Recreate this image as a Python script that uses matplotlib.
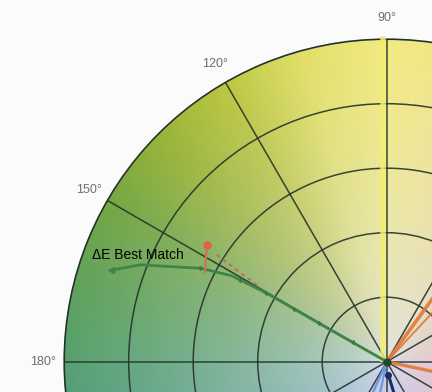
import numpy as np
import matplotlib.pyplot as plt
from matplotlib import transforms

# outer colour of the a*b* hue ring (angle in degrees -> RGB)
hue_angles = [0, 30, 60, 90, 105, 120, 135, 150, 165, 180, 210, 240, 270, 300, 330, 360]
hue_colors = [(232, 150, 145), (240, 185, 130), (242, 220, 140), (242, 234, 128),
              (226, 224, 104), (188, 198, 66), (152, 180, 54), (116, 166, 66),
              (96, 162, 88), (86, 160, 112), (80, 150, 150), (118, 150, 200),
              (130, 140, 210), (170, 150, 200), (220, 150, 170), (232, 150, 145)]
center_color = (222, 226, 238)

# polar grid
ring_radii = [20, 40, 60, 80]
spoke_angles = list(range(0, 360, 30))
label_angles = [90, 120, 150, 180]
label_texts = ["90°", "120°", "150°", "180°"]

# ΔE best match path (hue angle, chroma)
match_theta = [161.6, 158.5, 156.6, 153.4, 151.0, 150.3, 150.5, 150.0]
match_r = [90, 82, 74.4, 64.8, 55, 43, 20, 0]
dot_theta = [153.4, 150.8, 150.4, 150.4, 150.3, 150.2]
dot_r = [64.8, 52, 43, 33, 24, 12]

# red sample marker and dashed trace
red_dot_theta = [147.0]
red_dot_r = [66.5]
red_stem_theta = [147.0, 153.7]
red_stem_r = [66.5, 62.9]
red_dash_theta = [147.8, 148.6, 149.5]
red_dash_r = [62.3, 54, 45.7]

# other sample traces near the origin
orange_theta = [54, 47, -12]
orange_r = [40, 40, 40]
orange_width = [2.6, 1.4, 2.4]
blue_theta = [246, 258]
blue_r = [20, 20]
navy_theta = [277, 285]
navy_r = [4, 20]

fig = plt.figure(figsize=(4.32, 3.92), dpi=100, facecolor='#fbfbfb')
ax = fig.add_axes([0.1486, -0.7454, 1.4931, 1.6454], projection='polar')
ax.set_facecolor('#fbfbfb')

# colour wheel background
th_edges = np.radians(np.linspace(0, 360, 361))
r_edges = np.linspace(0, 100, 101)
th_mid = np.degrees(0.5 * (th_edges[:-1] + th_edges[1:]))
r_mid = 0.5 * (r_edges[:-1] + r_edges[1:])
edge = np.array([np.interp(th_mid, hue_angles, [c[i] for c in hue_colors]) for i in range(3)]).T
f = (r_mid / 100.0) ** 0.55
cc = np.array(center_color)[None, None, :]
rgb = cc + (edge[None, :, :] - cc) * f[:, None, None]
ax.pcolormesh(th_edges, r_edges, rgb / 255.0, shading='flat', zorder=0)

ax.set_ylim(0, 100)
ax.set_rgrids(ring_radii, labels=[''] * len(ring_radii))
ax.set_thetagrids(spoke_angles, labels=[''] * len(spoke_angles))
ax.grid(True, color='#24332a', linewidth=1.1, alpha=0.9)
ax.spines['polar'].set_color('#24332a')
ax.spines['polar'].set_linewidth(1.2)

# yellow b* axis trace, a few pixels left of the 90° spoke
shift = transforms.offset_copy(ax.transData, fig=fig, x=-4, y=0, units='dots')
ax.plot(np.radians([90, 90]), [0, 101], color='#f2ee70', lw=4, alpha=0.85,
        transform=shift, clip_on=False, zorder=3, solid_capstyle='butt')

for t, r, w in zip(orange_theta, orange_r, orange_width):
    ax.plot(np.radians([t, t]), [0, r], color='#e07a35', lw=w, alpha=0.9, zorder=3)
for t, r in zip(blue_theta, blue_r):
    ax.plot(np.radians([t, t]), [0, r], color='#6f95dc', lw=1.6, zorder=3)
ax.plot(np.radians(navy_theta), navy_r, color='#1c2a6e', lw=2.2, zorder=3)
ax.plot(np.radians(navy_theta[:1]), navy_r[:1], 'o', color='#1c2a6e', ms=4, zorder=4)

# best match trace
ax.plot(np.radians(match_theta), match_r, color='#3f8547', lw=2.0, zorder=4)
ax.plot(np.radians(match_theta[:1]), match_r[:1], marker='<', color='#3f8547', ms=4.5, zorder=4)
ax.plot(np.radians(dot_theta), dot_r, 's', color='#3a7a42', ms=1.8, zorder=5)
ax.plot([0], [0], 'o', color='#1f4a2a', ms=5, zorder=5)

ax.plot(np.radians(red_stem_theta), red_stem_r, color='#d0704f', lw=1.6, zorder=5)
ax.plot(np.radians(red_dash_theta), red_dash_r, color='#c66a55', lw=1.4, ls=(0, (2, 2)), zorder=5)
ax.plot(np.radians(red_dot_theta), red_dot_r, 'o', color='#e0604a', ms=5, zorder=6)

ax.text(np.radians(160.1), 97.3, 'ΔE Best Match', fontsize=10, family='Liberation Sans',
        color='black', ha='left', va='center', zorder=7)

for t, s in zip(label_angles, label_texts):
    ax.text(np.radians(t), 106.5, s, fontsize=9, family='Liberation Sans', color='#6e6e6e',
            ha='center', va='center', clip_on=False)

fig.savefig('out.png', dpi=100, facecolor=fig.get_facecolor())
